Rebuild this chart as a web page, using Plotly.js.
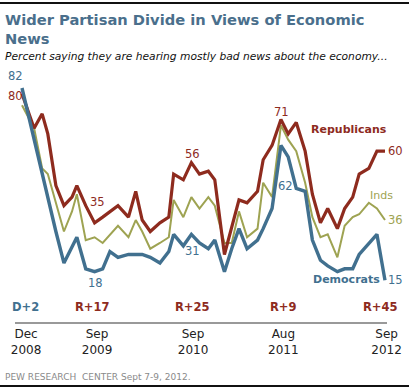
<!DOCTYPE html>
<html>
<head>
<meta charset="utf-8">
<script src="https://cdn.plot.ly/plotly-3.0.1.min.js"></script>
<style>
html,body{margin:0;padding:0;background:#fff;}
#chart{width:409px;height:388px;}
</style>
</head>
<body>
<div id="chart"></div>
<script>
// Survey positions, months since Dec 2008
var months = [0, 1.5, 2.5, 3.2, 4.2, 5.2, 6.2, 6.8, 7.9, 9.0, 10.0, 10.9, 11.9, 13.2, 14.1, 14.9, 15.9, 17.1, 18.2, 18.8, 20.0, 21.0, 22.0, 23.1, 23.9, 25.1, 26.0, 26.9, 27.9, 29.2, 29.9, 31.0, 32.1, 33.0, 34.0, 35.1, 36.0, 37.0, 37.9, 39.1, 40.0, 41.0, 41.8, 43.0, 44.0, 45.0];
var republicans = [80, 68, 73, 66, 48, 41, 44, 48, 41, 35, 37, 39, 41, 37, 46, 36, 32, 35, 37, 52, 50, 56, 52, 53, 50, 24, 34, 43, 42, 46, 57, 62, 71, 66, 70, 60, 45, 35, 40, 33, 40, 44, 52, 54, 60, 60];
var independents = [76, 68, 54, 52, 42, 32, 39, 45, 29, 30, 28, 31, 34, 30, 36, 32, 26, 28, 30, 43, 37, 44, 40, 44, 41, 28, 28, 39, 30, 33, 49, 44, 69, 64, 60, 49, 37, 30, 31, 23, 34, 37, 38, 42, 40, 36];
var democrats = [82, 64, 53, 44, 32, 21, 27, 30, 19, 18, 19, 25, 23, 24, 24, 24, 23, 21, 25, 31, 27, 31, 28, 26, 29, 18, 26, 33, 26, 29, 33, 40, 62, 58, 47, 46, 29, 22, 20, 18, 19, 19, 24, 28, 31, 15];

var tickPos = [0.5, 9.3, 21.2, 32.4, 45.2];
var tickLabels = ['Dec<br>2008', 'Sep<br>2009', 'Sep<br>2010', 'Aug<br>2011', 'Sep<br>2012'];
var gapLabels = ['D+2', 'R+17', 'R+25', 'R+9', 'R+45'];
var gapPos = [0.4, 8.8, 21.1, 32.4, 44.4];

var RED = '#8e2b1e', OLIVE = '#9ea352', BLUE = '#41708f', TITLE = '#4a6f8c';
var FONT = 'DejaVu Sans, Verdana, sans-serif';

var traces = [
  {x: months, y: independents, mode: 'lines', line: {color: OLIVE, width: 2}, hoverinfo: 'skip'},
  {x: months, y: republicans, mode: 'lines', line: {color: RED, width: 3.2}, hoverinfo: 'skip'},
  {x: months, y: democrats, mode: 'lines', line: {color: BLUE, width: 3.4}, hoverinfo: 'skip'}
];

var last = months.length - 1;
function pt(series, i, txt, color, xs, ys) {
  return {x: months[i], y: series[i], xref: 'x', yref: 'y', text: txt, showarrow: false,
    xshift: xs, yshift: ys, font: {family: FONT, size: 11.5, color: color}};
}
var ann = [
  {xref: 'paper', yref: 'paper', x: -12/372, y: (322-9)/252, xanchor: 'left', yanchor: 'top', align: 'left',
   text: '<b>Wider Partisan Divide in Views of Economic<br>News</b>', showarrow: false,
   font: {family: FONT, size: 14.7, color: TITLE}},
  pt(democrats, 0, '82', BLUE, -7, 12),
  pt(republicans, 0, '80', RED, -7, -2),
  pt(republicans, 9, '35', RED, 3, 21),
  pt(democrats, 9, '18', BLUE, 1, -11),
  pt(republicans, 21, '56', RED, 1, 9),
  pt(democrats, 21, '31', BLUE, 1, -17),
  pt(republicans, 32, '71', RED, 1, 8),
  pt(democrats, 32, '62', BLUE, 5, -41),
  pt(republicans, last, '60', RED, 11, 0),
  pt(independents, last, '36', OLIVE, 11, 0),
  pt(democrats, last, '15', BLUE, 11, 0),
  {x: 40.5, y: 67.4, text: '<b>Republicans</b>', showarrow: false, font: {family: FONT, size: 11, color: RED}},
  {x: 44.6, y: 44.7, text: 'Inds', showarrow: false, font: {family: FONT, size: 11, color: OLIVE}},
  {x: 40.2, y: 15.4, text: '<b>Democrats</b>', showarrow: false, font: {family: FONT, size: 11, color: BLUE}},
  {xref: 'paper', yref: 'paper', x: -12/372, y: (322-57)/252, xanchor: 'left', yanchor: 'middle',
   text: '<i>Percent saying they are hearing mostly bad news about the economy...</i>', showarrow: false,
   font: {family: FONT, size: 10.7, color: '#111'}},
  {xref: 'paper', yref: 'paper', x: -12/372, y: (322-377)/252, xanchor: 'left', yanchor: 'middle',
   text: 'PEW RESEARCH  CENTER Sept 7-9, 2012.', showarrow: false,
   font: {family: FONT, size: 9, color: '#8a8a8a'}}
];
for (var k = 0; k < gapLabels.length; k++) {
  ann.push({x: gapPos[k], y: 5.7, xref: 'x', yref: 'y', text: '<b>' + gapLabels[k] + '</b>', showarrow: false,
    font: {family: FONT, size: 11.5, color: gapLabels[k].charAt(0) === 'D' ? BLUE : RED}});
}

var layout = {
  width: 409, height: 388,
  margin: {l: 15, r: 22, t: 70, b: 66, pad: 0},
  paper_bgcolor: '#fff', plot_bgcolor: '#fff',
  showlegend: false,
  xaxis: {range: [-0.868, 45.25], showgrid: false, zeroline: false, showline: true, linecolor: '#999', linewidth: 1.5,
    tickvals: tickPos, ticktext: tickLabels, ticks: '', tickfont: {family: FONT, size: 12, color: '#222'}, fixedrange: true},
  yaxis: {range: [0.47, 88.27], visible: false, fixedrange: true},
  annotations: ann,
  shapes: [
    {type: 'line', xref: 'paper', yref: 'paper', x0: -15/372, x1: 1 + 22/372, y0: (322-3)/252, y1: (322-3)/252, line: {color: '#111', width: 2}},
    {type: 'line', xref: 'paper', yref: 'paper', x0: -15/372, x1: 1 + 22/372, y0: (322-386)/252, y1: (322-386)/252, line: {color: '#111', width: 2}}
  ]
};

Plotly.newPlot('chart', traces, layout, {displayModeBar: false, staticPlot: true});
</script>
</body>
</html>
